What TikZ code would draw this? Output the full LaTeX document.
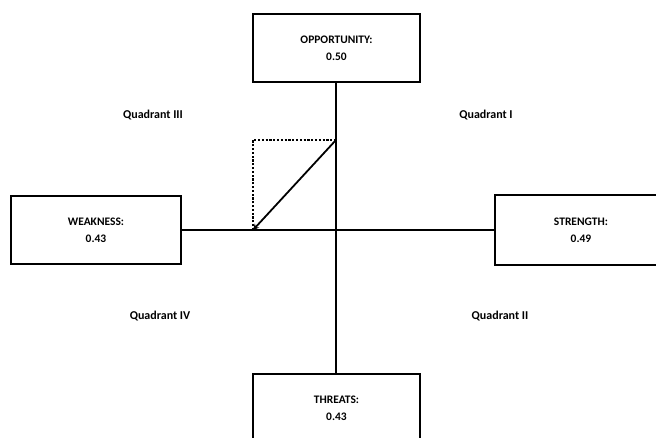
\documentclass[tikz,border=0pt]{standalone}
\usepackage{fontspec}
\setmainfont{Carlito}
\usetikzlibrary{arrows.meta}
\begin{document}
\begin{tikzpicture}[x=1pt,y=-1pt,
  box/.style={draw,line width=1.6pt,minimum width=167pt,minimum height=68pt,inner sep=0pt,align=center,font=\bfseries\fontsize{11.5}{17}\selectfont},
  lab/.style={font=\bfseries\fontsize{12}{14}\selectfont},
  axis/.style={line width=1.6pt}]
\useasboundingbox (0,0) rectangle (656,438);
\begin{scope}
\clip (0,0) rectangle (656,438);
\node[box] (opp) at (336.5,48) {OPPORTUNITY:\\0.50};
\node[box,minimum width=170pt] (weak) at (96,230) {WEAKNESS:\\0.43};
\node[box,draw=none,minimum width=170pt] (str) at (581,230) {STRENGTH:\\0.49};
\draw[axis] ([xshift=30pt]str.north east) -- (str.north west) -- (str.south west) -- ([xshift=30pt]str.south east);
\node[box] (thr) at (336.5,408) {THREATS:\\0.43};
\end{scope}
\coordinate (o) at (336,230);
\coordinate (p) at (336,140);
\coordinate (q) at (253,230);
\coordinate (c) at (253,140);
\draw[axis] (opp.south -| o) -- (thr.north -| o);
\draw[axis] (weak.east) -- (str.west);
\draw[line width=2.2pt,dash pattern=on 2.2pt off 1.6pt] (q) -- (c) -- (p);
\draw[line width=1.8pt,-{Stealth[length=6pt,width=6pt]}] (p) -- (q);
\node[lab] (q3) at (153,115) {Quadrant III};
\node[lab] (q1) at (486,115) {Quadrant I};
\node[lab] (q4) at (160,316) {Quadrant IV};
\node[lab] (q2) at (500,316) {Quadrant II};
\end{tikzpicture}
\end{document}
